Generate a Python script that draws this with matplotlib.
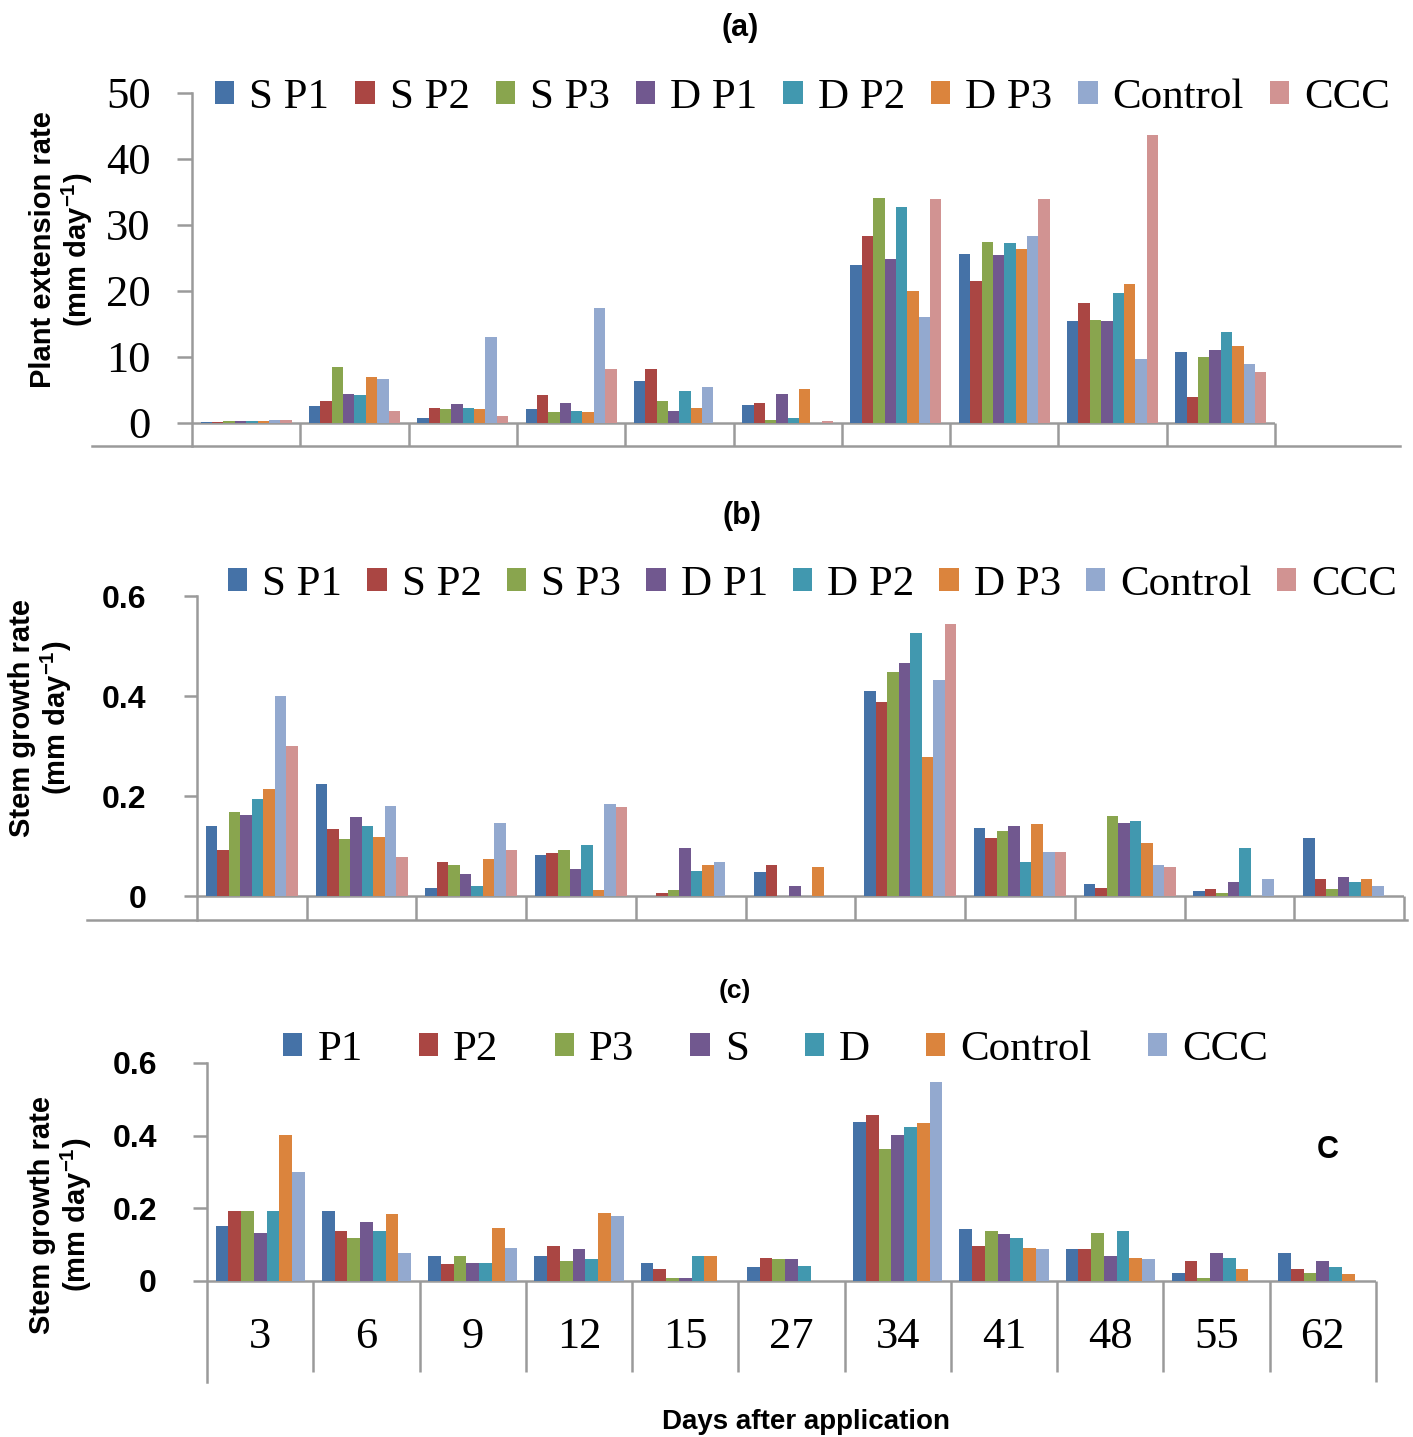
import numpy as np
import matplotlib
matplotlib.use("Agg")
import matplotlib.pyplot as plt
from matplotlib.font_manager import FontProperties

# ---------------- data ----------------
series_ab = ["S P1", "S P2", "S P3", "D P1", "D P2", "D P3", "Control", "CCC"]
colors_ab = ["#4572A7", "#AA4643", "#89A54E", "#71588F", "#4198AF", "#DB843D", "#93A9CF", "#D19392"]

# panel (a): 10 groups, rows = groups, columns = series
a_vals = [
    [0.1, 0.2, 0.3, 0.3, 0.3, 0.3, 0.5, 0.5],
    [2.6, 3.4, 8.5, 4.4, 4.2, 7.0, 6.7, 1.8],
    [0.8, 2.3, 2.1, 2.9, 2.3, 2.1, 13.1, 1.0],
    [2.1, 4.2, 1.6, 3.1, 1.8, 1.6, 17.5, 8.2],
    [6.4, 8.2, 3.4, 1.8, 4.9, 2.3, 5.4, 0.0],
    [2.8, 3.1, 0.5, 4.4, 0.8, 5.2, 0.0, 0.25],
    [23.9, 28.4, 34.1, 24.9, 32.8, 20.0, 16.1, 33.9],
    [25.6, 21.5, 27.4, 25.4, 27.2, 26.4, 28.4, 33.9],
    [15.4, 18.2, 15.6, 15.4, 19.7, 21.0, 9.7, 43.6],
    [10.8, 3.9, 10.0, 11.0, 13.8, 11.6, 9.0, 7.7],
]
a_yticks = [0, 10, 20, 30, 40, 50]

# panel (b): 11 groups
b_vals = [
    [0.141, 0.093, 0.168, 0.163, 0.195, 0.215, 0.401, 0.300],
    [0.225, 0.134, 0.115, 0.158, 0.141, 0.119, 0.181, 0.079],
    [0.017, 0.069, 0.062, 0.045, 0.021, 0.075, 0.146, 0.093],
    [0.083, 0.086, 0.093, 0.055, 0.103, 0.013, 0.184, 0.178],
    [0.000, 0.007, 0.013, 0.096, 0.051, 0.062, 0.068, 0.000],
    [0.048, 0.062, 0.000, 0.021, 0.000, 0.058, 0.000, 0.000],
    [0.411, 0.388, 0.448, 0.466, 0.527, 0.279, 0.432, 0.544],
    [0.137, 0.116, 0.130, 0.140, 0.068, 0.144, 0.089, 0.089],
    [0.025, 0.017, 0.161, 0.147, 0.150, 0.106, 0.062, 0.058],
    [0.011, 0.014, 0.007, 0.028, 0.096, 0.000, 0.035, 0.000],
    [0.116, 0.035, 0.014, 0.038, 0.028, 0.035, 0.021, 0.000],
]
bc_yticks = [0, 0.2, 0.4, 0.6]
bc_yticklabels = ["0", "0.2", "0.4", "0.6"]

# panel (c): 11 groups
series_c = ["P1", "P2", "P3", "S", "D", "Control", "CCC"]
colors_c = ["#4572A7", "#AA4643", "#89A54E", "#71588F", "#4198AF", "#DB843D", "#93A9CF"]
days = ["3", "6", "9", "12", "15", "27", "34", "41", "48", "55", "62"]
c_vals = [
    [0.151, 0.192, 0.192, 0.133, 0.192, 0.402, 0.301],
    [0.192, 0.138, 0.119, 0.161, 0.138, 0.183, 0.078],
    [0.068, 0.046, 0.068, 0.050, 0.050, 0.147, 0.091],
    [0.068, 0.096, 0.055, 0.087, 0.060, 0.188, 0.179],
    [0.050, 0.033, 0.009, 0.009, 0.068, 0.068, 0.000],
    [0.037, 0.064, 0.060, 0.060, 0.042, 0.000, 0.000],
    [0.437, 0.456, 0.364, 0.402, 0.425, 0.434, 0.547],
    [0.142, 0.096, 0.137, 0.128, 0.119, 0.092, 0.087],
    [0.087, 0.087, 0.133, 0.069, 0.137, 0.064, 0.060],
    [0.023, 0.055, 0.009, 0.078, 0.064, 0.033, 0.000],
    [0.078, 0.033, 0.023, 0.055, 0.037, 0.019, 0.000],
]

# ---------------- style ----------------
plt.rcParams["mathtext.fontset"] = "custom"
plt.rcParams["mathtext.rm"] = "Liberation Sans:bold"
plt.rcParams["mathtext.it"] = "Liberation Sans:bold"
plt.rcParams["mathtext.bf"] = "Liberation Sans:bold"

W, H = 1413, 1437
fig = plt.figure(figsize=(W / 100, H / 100), dpi=100)
GRAY = "#9a9a9a"
serif = FontProperties(family="Liberation Serif", size=31)
tickserif = FontProperties(family="Liberation Serif", size=32)
narrowbold = FontProperties(family="Liberation Sans", weight="bold", size=23)
sansbold = "Liberation Sans"


def add_ax(x0, x1, ytop, ybot):
    return fig.add_axes([x0 / W, 1 - ybot / H, (x1 - x0) / W, (ybot - ytop) / H])


def draw_panel(ax, vals, colors, ylo, yhi, yticks, yticklabels, tickfont, ticklen, tickpad,
               inner_bottom=None):
    vals = np.array(vals)
    n, k = vals.shape
    ax.set_xlim(0, n)
    ax.set_ylim(ylo, yhi)
    for s in ["top", "right", "bottom"]:
        ax.spines[s].set_visible(False)
    ax.spines["left"].set_color(GRAY)
    ax.spines["left"].set_linewidth(1.8)
    ax.set_xticks([])
    ax.set_yticks(yticks)
    ax.set_yticklabels(yticklabels, fontproperties=tickfont)
    ax.tick_params(axis="y", length=ticklen, width=1.8, color=GRAY, pad=tickpad)
    ax.set_facecolor("none")
    total = 0.84
    bw = total / k
    centers = np.arange(n) + 0.5
    bars = []
    for i in range(k):
        off = (i - (k - 1) / 2) * bw
        b = ax.bar(centers + off, vals[:, i], width=bw, color=colors[i], zorder=3,
                   linewidth=0)
        bars.append(b)
    ax.hlines(0, 0, n, color=GRAY, linewidth=1.8, zorder=2)
    ib = ylo if inner_bottom is None else inner_bottom
    ax.vlines(np.arange(1, n), ib, 0, color=GRAY, linewidth=1.8, zorder=2)
    ax.vlines([n], ylo, 0, color=GRAY, linewidth=1.8, zorder=2, clip_on=False)
    return bars


def fig_hline(y, x0, x1):
    fig.add_artist(plt.Line2D([x0 / W, x1 / W], [1 - y / H, 1 - y / H], color=GRAY,
                              linewidth=1.8, transform=fig.transFigure))


def legend(handles, labels, x, y, colspace):
    fig.legend(handles, labels, loc="center left", bbox_to_anchor=(x / W, 1 - y / H),
               ncol=len(labels), frameon=False, prop=serif, handlelength=0.45,
               handleheight=0.45, handletextpad=0.35, columnspacing=colspace,
               borderpad=0, borderaxespad=0)


# ---------------- panel (a) ----------------
ax_a = add_ax(192, 1275, 93, 446)
a_lo = -(446 - 423) / 6.6
bars_a = draw_panel(ax_a, a_vals, colors_ab, a_lo, 50, a_yticks, [str(t) for t in a_yticks],
                    tickserif, 10.8, 19)
fig_hline(446, 92, 1400)
legend(bars_a, series_ab, 215, 98, 0.6)
fig.text(740 / W, 1 - 28 / H, "(a)", ha="center", va="center", family=sansbold,
         weight="bold", fontsize=22)
fig.text(62 / W, 1 - 250 / H, "Plant extension rate\n(mm day$^{-1}$)", rotation=90,
         ha="center", va="center", multialignment="center", family=sansbold,
         weight="bold", fontsize=21, linespacing=1.1)

# ---------------- panel (b) ----------------
ax_b = add_ax(197, 1404, 596, 920)
b_lo = -(920 - 896) / 500
bars_b = draw_panel(ax_b, b_vals, colors_ab, b_lo, 0.6, bc_yticks, bc_yticklabels,
                    narrowbold, 9.5, 27)
fig_hline(920, 87, 1407)
legend(bars_b, series_ab, 228, 585, 0.58)
fig.text(742 / W, 1 - 516 / H, "(b)", ha="center", va="center", family=sansbold,
         weight="bold", fontsize=22)
fig.text(41 / W, 1 - 718 / H, "Stem growth rate\n(mm day$^{-1}$)", rotation=90,
         ha="center", va="center", multialignment="center", family=sansbold,
         weight="bold", fontsize=21, linespacing=1.1)

# ---------------- panel (c) ----------------
ax_c = add_ax(207, 1376, 1063, 1382)
c_lo = -(1382 - 1281) / 363
c_inner = -(1372 - 1281) / 363
bars_c = draw_panel(ax_c, c_vals, colors_c, c_lo, 0.6, bc_yticks, bc_yticklabels,
                    narrowbold, 10, 26, inner_bottom=c_inner)
for i, d in enumerate(days):
    ax_c.text(i + 0.5, -(1337 - 1281) / 363, d, ha="center", va="center",
              fontproperties=tickserif)
legend(bars_c, series_c, 283, 1050, 1.3)
fig.text(735 / W, 1 - 991 / H, "(c)", ha="center", va="center", family=sansbold,
         weight="bold", fontsize=19)
fig.text(61 / W, 1 - 1215 / H, "Stem growth rate\n(mm day$^{-1}$)", rotation=90,
         ha="center", va="center", multialignment="center", family=sansbold,
         weight="bold", fontsize=21, linespacing=1.1)
fig.text(1328 / W, 1 - 1150 / H, "C", ha="center", va="center", family=sansbold,
         weight="bold", fontsize=22)
fig.text(806 / W, 1 - 1422 / H, "Days after application", ha="center", va="center",
         family=sansbold, weight="bold", fontsize=20)

fig.savefig("out.png", dpi=100)
